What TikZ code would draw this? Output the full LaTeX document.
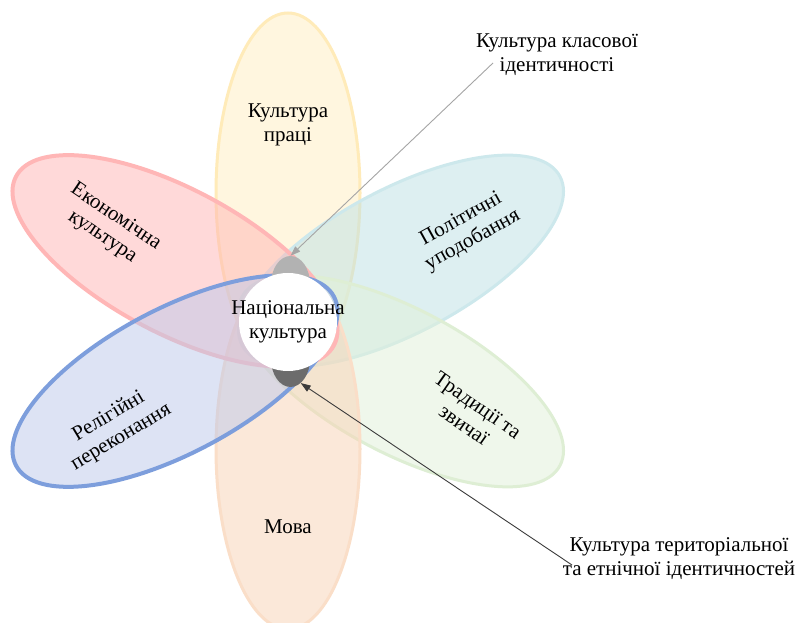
\documentclass[tikz,border=0pt]{standalone}
\usepackage{fontspec}
\setmainfont{Liberation Serif}
\usetikzlibrary{shapes.geometric,arrows.meta}
\definecolor{yelF}{RGB}{255,239,193}
\definecolor{yelD}{RGB}{255,235,185}
\definecolor{pinkF}{RGB}{255,181,181}
\definecolor{pinkD}{RGB}{255,182,182}
\definecolor{tealF}{RGB}{189,225,229}
\definecolor{tealD}{RGB}{205,232,236}
\definecolor{grnF}{RGB}{225,241,217}
\definecolor{grnD}{RGB}{222,238,212}
\definecolor{orF}{RGB}{249,211,181}
\definecolor{orD}{RGB}{250,222,200}
\definecolor{bluF}{RGB}{189,201,235}
\definecolor{bluD}{RGB}{125,158,220}
\definecolor{greyA}{RGB}{178,178,178}
\definecolor{greyB}{RGB}{108,108,108}
\definecolor{arrA}{RGB}{165,165,165}
\definecolor{arrB}{RGB}{60,60,60}
\begin{document}
\begin{tikzpicture}[x=1pt,y=1pt,
  petal/.style={fill opacity=0.5, line width=3pt},
  lbl/.style={align=center, font=\fontsize{21}{24}\selectfont, inner sep=0pt},
  greyblob/.style={ellipse, draw=none, minimum width=39pt, minimum height=56pt, inner sep=0pt},
  ptr/.style={line width=0.9pt, -{Triangle[length=10pt,width=7pt]}}]
\useasboundingbox (0,0) rectangle (798,623);
\fill[white] (0,0) rectangle (798,623);
% petals
\draw[petal, draw=yelD, fill=yelF] (288,430) ellipse [x radius=72, y radius=180];
\draw[petal, draw=tealD, fill=tealF, rotate around={28:(401,362.1)}] (401,362.1) ellipse [x radius=180, y radius=72];
\draw[petal, draw=grnD, fill=grnF, rotate around={-28:(401,241.9)}] (401,241.9) ellipse [x radius=180, y radius=72];
\draw[petal, draw=orD, fill=orF] (288,174) ellipse [x radius=72, y radius=180];
\draw[petal, line width=4pt, draw=pinkD, fill=pinkF, rotate around={-28:(175,362.1)}] (175,362.1) ellipse [x radius=180, y radius=72];
\draw[petal, line width=4pt, draw=bluD, fill=bluF, rotate around={28:(175,241.9)}] (175,241.9) ellipse [x radius=180, y radius=72];
% centre
\node[greyblob, fill=greyA] (g1) at (290.5,339) {};
\node[greyblob, fill=greyB] (g2) at (290.5,264) {};
\node[circle, fill=white, minimum size=98pt, inner sep=0pt] (nc) at (288,301) {};
\node[lbl] (nct) at (nc.center) {Національна\\культура};
% petal labels
\node[lbl] (t1) at (288,498) {Культура\\праці};
\node[lbl, rotate=-34] (t2) at (109,396) {Економічна\\культура};
\node[lbl, rotate=29] (t3) at (467,393) {Політичні\\уподобання};
\node[lbl, rotate=-35] (t4) at (471,208) {Традиції та\\звичаї};
\node[lbl, rotate=31] (t5) at (115,196) {Релігійні\\переконання};
\node[lbl] (t6) at (288,96) {Мова};
% callouts
\node[lbl] (k1) at (557,568) {Культура класової\\ідентичності};
\node[lbl] (k2) at (679,64) {Культура територіальної\\та етнічної ідентичностей};
\coordinate (c1) at (493,560);
\coordinate (c2) at (572,58);
\draw[ptr, draw=arrA] (c1) -- (g1.north);
\draw[ptr, draw=arrB] (c2) -- (g2.-67);
\end{tikzpicture}
\end{document}
